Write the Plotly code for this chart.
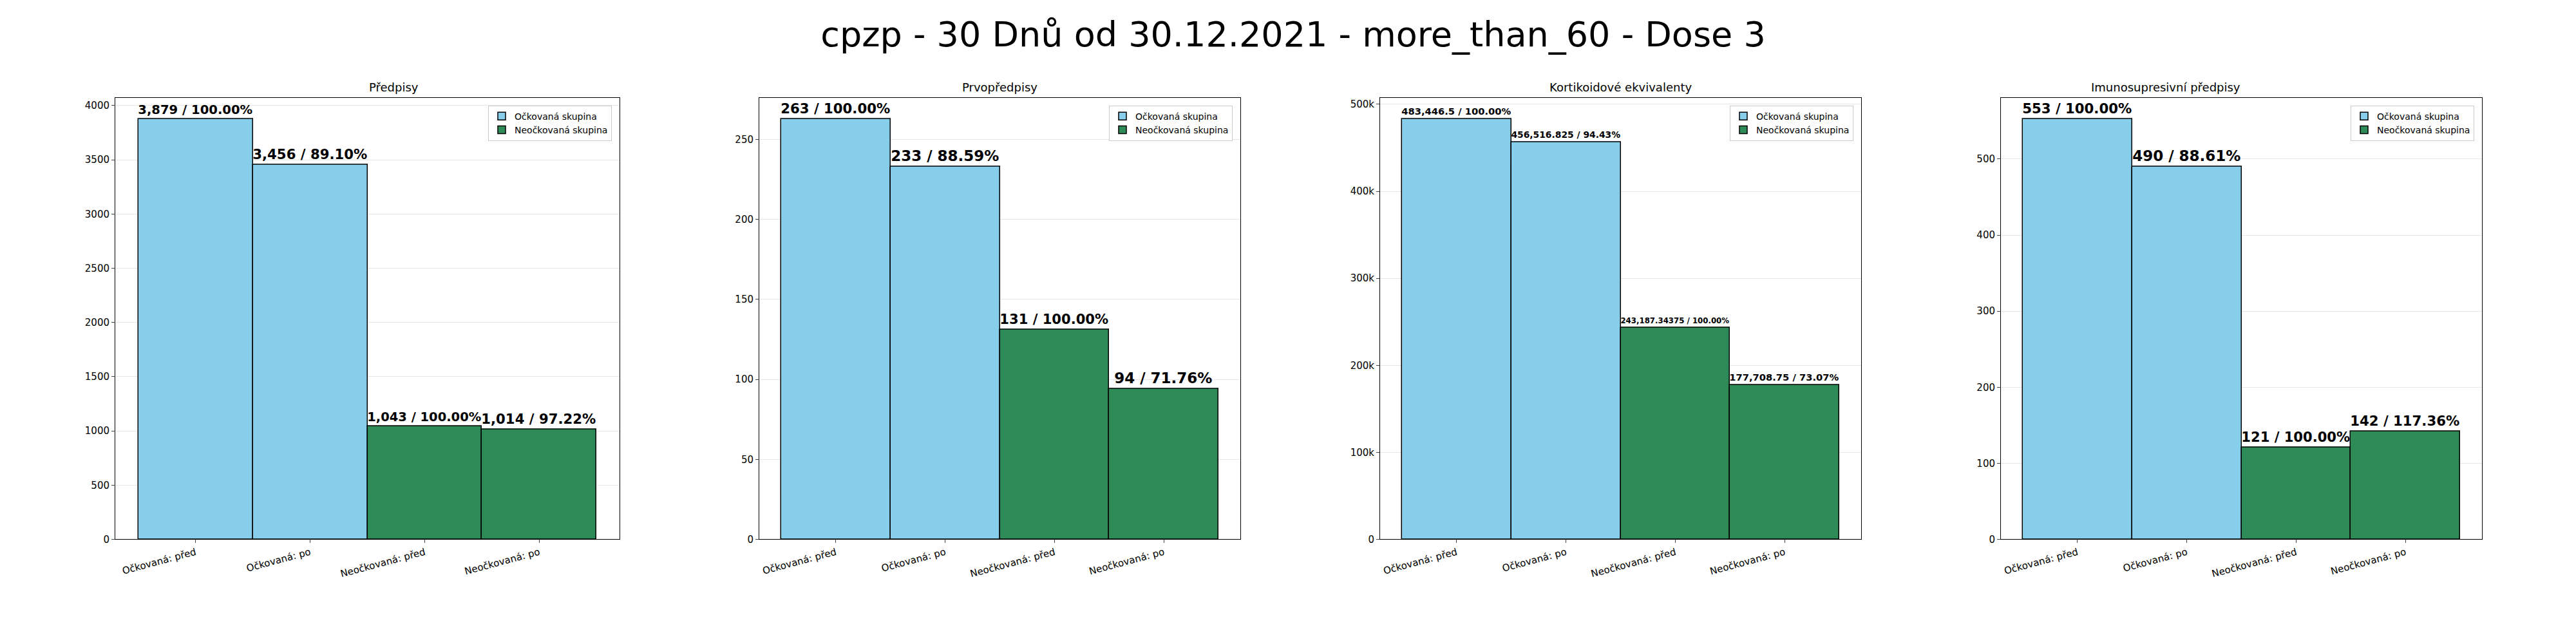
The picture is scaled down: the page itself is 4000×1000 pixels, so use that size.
import plotly.graph_objects as go

categories = ['Očkovaná: před', 'Očkovaná: po', 'Neočkovaná: před', 'Neočkovaná: po']
panel_titles = ['Předpisy', 'Prvopředpisy', 'Kortikoidové ekvivalenty', 'Imunosupresivní předpisy']
values = [
    [3879, 3456, 1043, 1014],
    [263, 233, 131, 94],
    [483446.5, 456516.825, 243187.34375, 177708.75],
    [553, 490, 121, 142],
]
labels = [
    ['3,879 / 100.00%', '3,456 / 89.10%', '1,043 / 100.00%', '1,014 / 97.22%'],
    ['263 / 100.00%', '233 / 88.59%', '131 / 100.00%', '94 / 71.76%'],
    ['483,446.5 / 100.00%', '456,516.825 / 94.43%', '243,187.34375 / 100.00%', '177,708.75 / 73.07%'],
    ['553 / 100.00%', '490 / 88.61%', '121 / 100.00%', '142 / 117.36%'],
]
y_ticks = [
    list(range(0, 4001, 500)),
    list(range(0, 251, 50)),
    list(range(0, 500001, 100000)),
    list(range(0, 501, 100)),
]

W, H = 4000, 1000
x_left = [171, 1171, 2135, 3099]
x_right = [954, 1918, 2882, 3846]
y_top, y_bot = 145, 837

BLUE = '#87CEEB'
GREEN = '#2E8B57'

fig = go.Figure()
for i in range(4):
    n = '' if i == 0 else str(i + 1)
    xa, ya = 'x' + n, 'y' + n
    lg = 'legend' + n
    ymax = max(values[i]) * 1.05
    for grp, idx, col in [('Očkovaná skupina', [0, 1], BLUE), ('Neočkovaná skupina', [2, 3], GREEN)]:
        fig.add_trace(go.Bar(
            x=[j for j in idx], y=[values[i][j] for j in idx], width=1,
            marker=dict(color=col, line=dict(color='black', width=1.5)),
            name=grp, xaxis=xa, yaxis=ya, legend=lg,
            text=[labels[i][j] for j in idx], textposition='outside', cliponaxis=False,
            textfont=dict(size=23, color='black', family='DejaVu Sans', weight='bold'),
        ))
    dom_x = [x_left[i] / W, x_right[i] / W]
    dom_y = [1 - y_bot / H, 1 - y_top / H]
    fig.update_layout(**{
        'xaxis' + n: dict(domain=dom_x, range=[-0.7, 3.7], tickvals=[0, 1, 2, 3], ticktext=categories,
                          tickangle=-15, showline=True, linecolor='black', mirror=True, ticks='outside',
                          showgrid=False, zeroline=False, anchor=ya, tickfont=dict(size=15)),
        'yaxis' + n: dict(domain=dom_y, range=[0, ymax], tickvals=y_ticks[i], showline=True, linecolor='black',
                          mirror=True, ticks='outside', gridcolor='#e6e6e6', zeroline=False, anchor=xa,
                          tickfont=dict(size=15)),
        lg: dict(x=dom_x[1] - 0.003, y=dom_y[1] - 0.012, xanchor='right', yanchor='top',
                 bgcolor='white', bordercolor='#cccccc', borderwidth=1, font=dict(size=14)),
    })
    fig.add_annotation(text=panel_titles[i], x=(dom_x[0] + dom_x[1]) / 2, y=dom_y[1], xref='paper', yref='paper',
                       yanchor='bottom', showarrow=False, yshift=4, font=dict(size=18, color='black'))

fig.update_layout(
    width=W, height=H, barmode='overlay', bargap=0,
    plot_bgcolor='white', paper_bgcolor='white',
    font=dict(family='DejaVu Sans', color='black'),
    title=dict(text='cpzp - 30 Dnů od 30.12.2021 - more_than_60 - Dose 3', x=0.5, y=0.955,
               xanchor='center', yanchor='middle', font=dict(size=54)),
    margin=dict(l=0, r=0, t=0, b=0),
)
fig.write_html('out.html')
